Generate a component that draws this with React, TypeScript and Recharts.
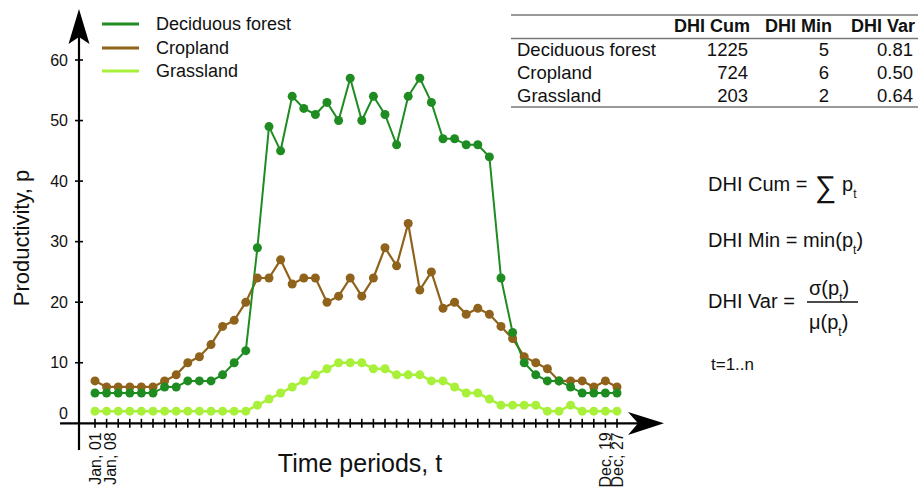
import React from 'react';
import { LineChart, Line, XAxis, YAxis, Customized } from 'recharts';

const FONT = '"Liberation Sans", Arial, Helvetica, sans-serif';

const seriesNames = ['Deciduous forest', 'Cropland', 'Grassland'];
const seriesColors = ['#1f8c22', '#8f631b', '#a8f03a'];

const deciduousForest = [5, 5, 5, 5, 5, 5, 6, 6, 7, 7, 7, 8, 10, 12, 29, 49, 45, 54, 52, 51, 53, 50, 57, 50, 54, 51, 46, 54, 57, 53, 47, 47, 46, 46, 44, 24, 15, 10, 8, 7, 7, 6, 5, 5, 5, 5];
const cropland = [7, 6, 6, 6, 6, 6, 7, 8, 10, 11, 13, 16, 17, 20, 24, 24, 27, 23, 24, 24, 20, 21, 24, 21, 24, 29, 26, 33, 22, 25, 19, 20, 18, 19, 18, 16, 14, 11, 10, 9, 7, 7, 7, 6, 7, 6];
const grassland = [2, 2, 2, 2, 2, 2, 2, 2, 2, 2, 2, 2, 2, 2, 3, 4, 5, 6, 7, 8, 9, 10, 10, 10, 9, 9, 8, 8, 8, 7, 7, 6, 5, 5, 4, 3, 3, 3, 3, 2, 2, 3, 2, 2, 2, 2];

const xTickLabels: Record<number, string> = { 1: 'Jan, 01', 2: 'Jan, 08', 45: 'Dec, 19', 46: 'Dec, 27' };
const yTicks = [0, 10, 20, 30, 40, 50, 60];

const tableHeader = ['DHI Cum', 'DHI Min', 'DHI Var'];
const dhiCum = [1225, 724, 203];
const dhiMin = [5, 6, 2];
const dhiVar = ['0.81', '0.50', '0.64'];

const data = deciduousForest.map((v, i) => ({
  t: i + 1,
  deciduous: v,
  cropland: cropland[i],
  grassland: grassland[i],
}));
const xTicks = data.map((d) => d.t);

const XTick = (props: any) => {
  const { x, y, payload } = props;
  const label = xTickLabels[payload.value];
  const shift = payload.value === 2 ? 4 : 0;
  return (
    <g>
      <line x1={x} x2={x} y1={y - 4.5} y2={y + 4.5} stroke="#000" strokeWidth={1.6} />
      {label && (
        <text
          transform={`translate(${x + 5.5 + shift},${y + 9}) rotate(-90)`}
          textAnchor="end"
          fontSize={16}
          fontFamily={FONT}
          fill="#111"
        >
          {label}
        </text>
      )}
    </g>
  );
};

const YTick = (props: any) => {
  const { x, y, payload } = props;
  const zero = payload.value === 0;
  return (
    <g>
      {!zero && <line x1={x - 4} x2={x + 4} y1={y} y2={y} stroke="#000" strokeWidth={1.6} />}
      <text x={x - 11} y={zero ? y - 10 : y} dy="0.35em" textAnchor="end" fontSize={16} fontFamily={FONT} fill="#111">
        {payload.value}
      </text>
    </g>
  );
};

const Overlay = () => {
  const colRight = [750, 832, 915];
  const rowY = [50, 73, 96];
  const legendY = [24, 48, 71];
  return (
    <g fontFamily={FONT} fill="#111">
      {/* axes */}
      <line x1={79} x2={79} y1={36} y2={450} stroke="#000" strokeWidth={2.2} />
      <path d="M79,9 L89.5,44 L79,37 L68.5,44 Z" fill="#000" />
      <line x1={60} x2={640} y1={423.3} y2={423.3} stroke="#000" strokeWidth={2.2} />
      <path d="M664,423.3 L628,412 L638,423.3 L628,435 Z" fill="#000" />
      {/* legend */}
      {seriesNames.map((n, i) => (
        <g key={n}>
          <line x1={102} x2={139} y1={legendY[i]} y2={legendY[i]} stroke={seriesColors[i]} strokeWidth={3} />
          <text x={156} y={legendY[i]} dy="0.35em" fontSize={18}>{n}</text>
        </g>
      ))}
      {/* axis titles */}
      <text transform="translate(29,238) rotate(-90)" textAnchor="middle" fontSize={22}>Productivity, p</text>
      <text x={360} y={472} textAnchor="middle" fontSize={25}>Time periods, t</text>
      {/* table */}
      <line x1={511} x2={918} y1={15} y2={15} stroke="#777" strokeWidth={1.5} />
      <line x1={511} x2={918} y1={38.5} y2={38.5} stroke="#777" strokeWidth={1.5} />
      <line x1={511} x2={918} y1={107} y2={107} stroke="#777" strokeWidth={1.5} />
      {tableHeader.map((h, j) => (
        <text key={h} x={colRight[j]} y={26} dy="0.35em" textAnchor="end" fontSize={18} fontWeight="bold">{h}</text>
      ))}
      {seriesNames.map((n, i) => (
        <g key={n}>
          <text x={517} y={rowY[i]} dy="0.35em" fontSize={18.5}>{n}</text>
          <text x={colRight[0] - 2} y={rowY[i]} dy="0.35em" textAnchor="end" fontSize={18.5}>{dhiCum[i]}</text>
          <text x={colRight[1] - 3} y={rowY[i]} dy="0.35em" textAnchor="end" fontSize={18.5}>{dhiMin[i]}</text>
          <text x={colRight[2] - 2} y={rowY[i]} dy="0.35em" textAnchor="end" fontSize={18.5}>{dhiVar[i]}</text>
        </g>
      ))}
      {/* formulas */}
      <text x={708} y={184} dy="0.35em" fontSize={20}>DHI Cum =</text>
      <text x={815} y={186} dy="0.35em" fontSize={30}>∑</text>
      <text x={842} y={184} dy="0.35em" fontSize={20}>p<tspan dy={7} fontSize={12}>t</tspan></text>

      <text x={708} y={240} dy="0.35em" fontSize={20}>
        DHI Min = min(p<tspan dy={7} fontSize={12}>t</tspan><tspan dy={-7} fontSize={20}>)</tspan>
      </text>

      <text x={708} y={301} dy="0.35em" fontSize={20}>DHI Var =</text>
      <text x={809} y={288} dy="0.35em" fontSize={20}>
        σ(p<tspan dy={7} fontSize={12}>t</tspan><tspan dy={-7} fontSize={20}>)</tspan>
      </text>
      <line x1={807} x2={858} y1={302} y2={302} stroke="#111" strokeWidth={1.3} />
      <text x={809} y={322} dy="0.35em" fontSize={20}>
        μ(p<tspan dy={7} fontSize={12}>t</tspan><tspan dy={-7} fontSize={20}>)</tspan>
      </text>

      <text x={711} y={364} dy="0.35em" fontSize={17}>t=1..n</text>
    </g>
  );
};

export default function App() {
  return (
    <div style={{ position: 'absolute', left: 0, top: 0, background: '#fff' }}>
      <LineChart width={918} height={488} data={data} margin={{ top: 60, right: 254, left: 0, bottom: 0 }}>
        <XAxis
          dataKey="t"
          type="number"
          domain={[1, 46]}
          ticks={xTicks}
          interval={0}
          padding={{ left: 16, right: 47 }}
          height={64.7}
          axisLine={false}
          tickLine={false}
          tickSize={0}
          tickMargin={0}
          tick={<XTick />}
        />
        <YAxis
          domain={[0, 60]}
          ticks={yTicks}
          width={79}
          axisLine={false}
          tickLine={false}
          tickSize={0}
          tickMargin={0}
          tick={<YTick />}
          allowDataOverflow
        />
        <Customized component={Overlay} />
        <Line dataKey="grassland" name={seriesNames[2]} stroke={seriesColors[2]} strokeWidth={2.5}
          dot={{ r: 4.5, fill: seriesColors[2], stroke: 'none' }} isAnimationActive={false} />
        <Line dataKey="cropland" name={seriesNames[1]} stroke={seriesColors[1]} strokeWidth={2.2}
          dot={{ r: 4.5, fill: seriesColors[1], stroke: 'none' }} isAnimationActive={false} />
        <Line dataKey="deciduous" name={seriesNames[0]} stroke={seriesColors[0]} strokeWidth={2}
          dot={{ r: 4.5, fill: seriesColors[0], stroke: 'none' }} isAnimationActive={false} />
      </LineChart>
    </div>
  );
}
